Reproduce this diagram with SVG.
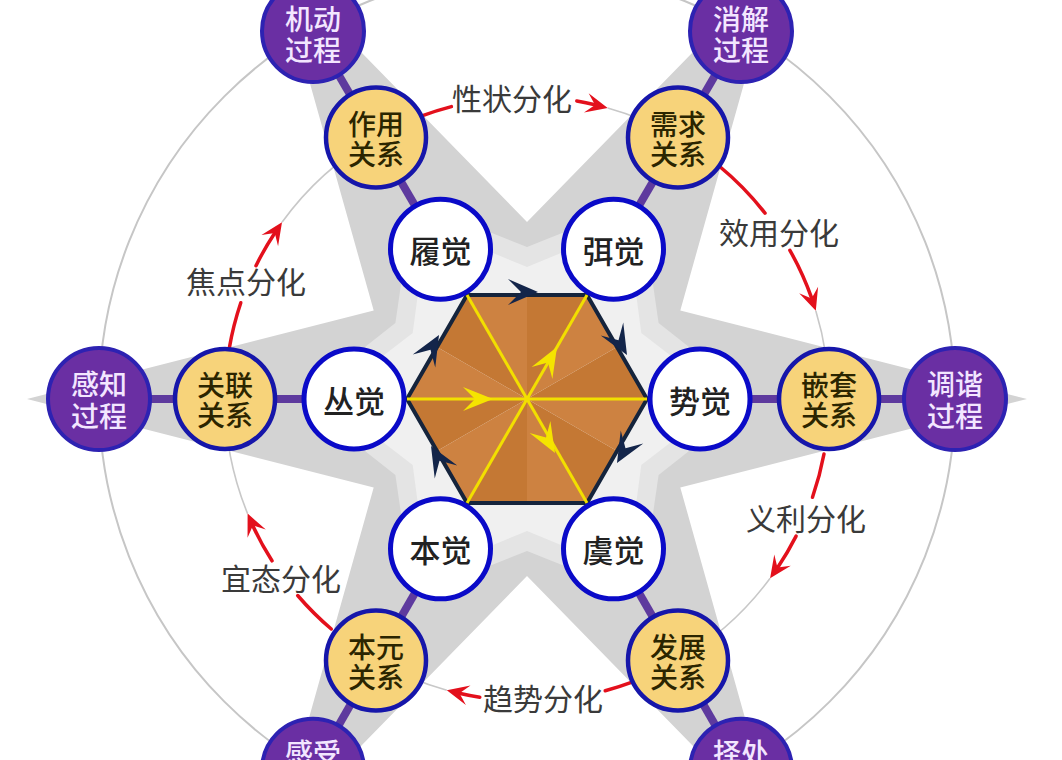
<svg xmlns="http://www.w3.org/2000/svg" xmlns:xlink="http://www.w3.org/1999/xlink" width="1062" height="760" viewBox="0 0 1062 760">
<style>
.ring{fill:none;stroke:#c6c6c6;stroke-width:2}
.guide{fill:none;stroke:#c8c8c8;stroke-width:1.6}
.spoke{stroke:#5e3a9e;stroke-width:8}
.red{fill:none;stroke:#e3101c;stroke-width:3.5;stroke-linecap:round}
.lbl{font-family:"Noto Sans CJK SC","Noto Sans",sans-serif;font-size:30px;fill:#3a3a3a;text-anchor:middle;dominant-baseline:central}
.pn circle{fill:#6a2fa3;stroke:#2d22b2;stroke-width:4}
.yn circle{fill:#f7d37a;stroke:#1616aa;stroke-width:4.5}
.wn circle{fill:#ffffff;stroke:#0a0ac8;stroke-width:5}
.pn text,.yn text,.wn text{font-family:"Noto Sans CJK SC","Noto Sans",sans-serif;text-anchor:middle;dominant-baseline:central;font-weight:500}
.pn text{font-size:28px;fill:#f3e6ff}
.yn text{font-size:28px;fill:#2b2500}
.wn text{font-size:31px;fill:#222222}
.hexline{stroke:#f2df00;stroke-width:3}
.fa{fill:#c47834}
.fb{fill:#cd8241}
</style>
<defs>
<path id="navyHead" d="M0,0 L-30,-13 L-17,0 L-30,13 Z" fill="#13254a"/>
<path id="yHead" d="M0,0 L-30,-12 L-18,0 L-30,12 Z" fill="#f5e400"/>
<path id="rHead" d="M0,0 L-22,-10 L-13,0 L-22,10 Z" fill="#e3101c"/>
</defs>
<rect width="1062" height="760" fill="#ffffff"/>
<g id="background">
<polygon fill="#d3d3d3" points="1027,399 680.3,310.5 777,-34 527,222 277,-34 373.7,310.5 27,399 373.7,487.5 277,832 527,576 777,832 680.3,487.5"/>
<polygon fill="#e4e4e4" points="755,399 658.6,323 641,201.5 527,247 413,201.5 395.4,323 299,399 395.4,475 413,596.5 527,551 641,596.5 658.6,475"/>
<polygon fill="#f0f0f0" points="727,399 641.3,333 627,225.8 527,267 427,225.8 412.7,333 327,399 412.7,465 427,572.2 527,531 627,572.2 641.3,465"/>
<circle class="ring" cx="527" cy="399" r="428"/>
</g>
<g id="connectors">
<line class="spoke" x1="700" y1="399" x2="955" y2="399"/>
<line class="spoke" x1="613.5" y1="249.2" x2="741" y2="31"/>
<line class="spoke" x1="440.5" y1="249.2" x2="313" y2="31"/>
<line class="spoke" x1="354" y1="399" x2="99" y2="399"/>
<line class="spoke" x1="440.5" y1="548.8" x2="313" y2="769.7"/>
<line class="spoke" x1="613.5" y1="548.8" x2="741" y2="769.7"/>
<path class="guide" d="M607.7,108 A302,302 0 0 1 678,137.5"/>
<path class="guide" d="M815.8,310.7 A302,302 0 0 1 829,399"/>
<path class="guide" d="M770.1,578.2 A302,302 0 0 1 678,660.5"/>
<path class="guide" d="M446.8,690.2 A302,302 0 0 1 376,660.5"/>
<path class="guide" d="M247.6,513.6 A302,302 0 0 1 225,399"/>
<path class="guide" d="M282,222.3 A302,302 0 0 1 376,137.5"/>
<g id="arc-xingzhuang">
<path class="red" d="M421.2,116.1 A302,302 0 0 1 451.4,106.6"/>
<path class="red" d="M576.8,101.1 A302,302 0 0 1 594.9,104.7"/>
<use href="#rHead" transform="translate(607.7,108) rotate(13.5)"/>
<text class="lbl" x="512" y="97">性状分化</text>
</g>
<g id="arc-xiaoyong">
<path class="red" d="M719.1,166 A302,302 0 0 1 765,213.1"/>
<path class="red" d="M789.9,250.3 A302,302 0 0 1 811.7,298.2"/>
<use href="#rHead" transform="translate(815.8,310.7) rotate(71)"/>
<text class="lbl" x="779" y="231">效用分化</text>
</g>
<g id="arc-yili">
<path class="red" d="M824,454 A302,302 0 0 1 812.5,497.3"/>
<path class="red" d="M796.1,536.1 A302,302 0 0 1 777.4,567.9"/>
<use href="#rHead" transform="translate(770.1,578.2) rotate(124.4)"/>
<text class="lbl" x="806" y="517">义利分化</text>
</g>
<g id="arc-qushi">
<path class="red" d="M632.8,681.9 A302,302 0 0 1 605.2,690.7"/>
<path class="red" d="M479.8,697.3 A302,302 0 0 1 459.1,693.3"/>
<use href="#rHead" transform="translate(446.8,690.2) rotate(193.4)"/>
<text class="lbl" x="543" y="697">趋势分化</text>
</g>
<g id="arc-yitai">
<path class="red" d="M331.3,629 A302,302 0 0 1 297.7,595.5"/>
<path class="red" d="M272,560.8 A302,302 0 0 1 252.8,525.7"/>
<use href="#rHead" transform="translate(247.6,513.6) rotate(-114.3)"/>
<text class="lbl" x="281" y="577">宜态分化</text>
</g>
<g id="arc-jiaodian">
<path class="red" d="M229.3,348.1 A302,302 0 0 1 240.8,302.7"/>
<path class="red" d="M256,265.7 A302,302 0 0 1 274.6,233.2"/>
<use href="#rHead" transform="translate(282,222.3) rotate(-56.2)"/>
<text class="lbl" x="246" y="280">焦点分化</text>
</g>
</g>
<g id="hexagon">
<polygon class="fa" points="527,399 647,399 617,347"/>
<polygon class="fb" points="527,399 617,347 587,295.1"/>
<polygon class="fa" points="527,399 587,295.1 527,295.1"/>
<polygon class="fb" points="527,399 527,295.1 467,295.1"/>
<polygon class="fa" points="527,399 467,295.1 437,347"/>
<polygon class="fb" points="527,399 437,347 407,399"/>
<polygon class="fa" points="527,399 407,399 437,451"/>
<polygon class="fb" points="527,399 437,451 467,502.9"/>
<polygon class="fa" points="527,399 467,502.9 527,502.9"/>
<polygon class="fb" points="527,399 527,502.9 587,502.9"/>
<polygon class="fa" points="527,399 587,502.9 617,451"/>
<polygon class="fb" points="527,399 617,451 647,399"/>
<polygon points="647,399 587,295.1 467,295.1 407,399 467,502.9 587,502.9" fill="none" stroke="#15243c" stroke-width="4" stroke-linejoin="round"/>
<line class="hexline" x1="407" y1="399" x2="647" y2="399"/>
<line class="hexline" x1="467" y1="502.9" x2="587" y2="295.1"/>
<line class="hexline" x1="467" y1="295.1" x2="587" y2="502.9"/>
<use href="#yHead" transform="translate(493,399)"/>
<use href="#yHead" transform="translate(557,347) rotate(-60)"/>
<use href="#yHead" transform="translate(555,453) rotate(60)"/>
<use href="#navyHead" transform="translate(538,292)"/>
<use href="#navyHead" transform="translate(627,355) rotate(60)"/>
<use href="#navyHead" transform="translate(617,463) rotate(120)"/>
<use href="#navyHead" transform="translate(431,446) rotate(240)"/>
<use href="#navyHead" transform="translate(439,335) rotate(-60)"/>
</g>
<g id="node-shijue" class="wn"><circle cx="700" cy="399" r="50"/><text x="700" y="399">势觉</text></g>
<g id="node-mijue" class="wn"><circle cx="613.5" cy="249.2" r="50"/><text x="613.5" y="249.2">弭觉</text></g>
<g id="node-lvjue" class="wn"><circle cx="440.5" cy="249.2" r="50"/><text x="440.5" y="249.2">履觉</text></g>
<g id="node-congjue" class="wn"><circle cx="354" cy="399" r="50"/><text x="354" y="399">丛觉</text></g>
<g id="node-benjue" class="wn"><circle cx="440.5" cy="548.8" r="50"/><text x="440.5" y="548.8">本觉</text></g>
<g id="node-yujue" class="wn"><circle cx="613.5" cy="548.8" r="50"/><text x="613.5" y="548.8">虞觉</text></g>
<g id="node-qiantao" class="yn"><circle cx="829" cy="399" r="50"/><text><tspan x="829" y="384">嵌套</tspan><tspan x="829" y="414">关系</tspan></text></g>
<g id="node-xuqiu" class="yn"><circle cx="678" cy="137.5" r="50"/><text><tspan x="678" y="122.5">需求</tspan><tspan x="678" y="152.5">关系</tspan></text></g>
<g id="node-zuoyong" class="yn"><circle cx="376" cy="137.5" r="50"/><text><tspan x="376" y="122.5">作用</tspan><tspan x="376" y="152.5">关系</tspan></text></g>
<g id="node-guanlian" class="yn"><circle cx="225" cy="399" r="50"/><text><tspan x="225" y="384">关联</tspan><tspan x="225" y="414">关系</tspan></text></g>
<g id="node-benyuan" class="yn"><circle cx="376" cy="660.5" r="50"/><text><tspan x="376" y="645.5">本元</tspan><tspan x="376" y="675.5">关系</tspan></text></g>
<g id="node-fazhan" class="yn"><circle cx="678" cy="660.5" r="50"/><text><tspan x="678" y="645.5">发展</tspan><tspan x="678" y="675.5">关系</tspan></text></g>
<g id="node-tiaoxie" class="pn"><circle cx="955" cy="399" r="51"/><text><tspan x="955" y="383">调谐</tspan><tspan x="955" y="415">过程</tspan></text></g>
<g id="node-xiaojie" class="pn"><circle cx="741" cy="31" r="51"/><text><tspan x="741" y="18">消解</tspan><tspan x="741" y="49">过程</tspan></text></g>
<g id="node-jidong" class="pn"><circle cx="313" cy="31" r="51"/><text><tspan x="313" y="18">机动</tspan><tspan x="313" y="49">过程</tspan></text></g>
<g id="node-ganzhi" class="pn"><circle cx="99" cy="399" r="51"/><text><tspan x="99" y="383">感知</tspan><tspan x="99" y="415">过程</tspan></text></g>
<g id="node-ganshou" class="pn"><circle cx="313" cy="769.7" r="51"/><text x="313" y="752">感受</text></g>
<g id="node-zechu" class="pn"><circle cx="741" cy="769.7" r="51"/><text x="741" y="752">择处</text></g>
</svg>
